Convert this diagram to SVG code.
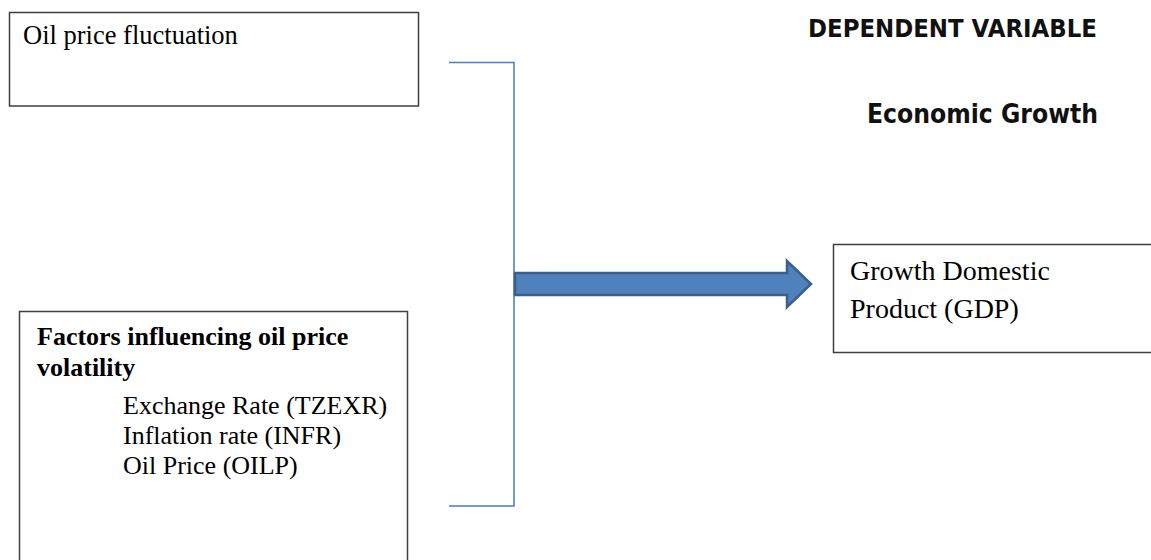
<svg xmlns="http://www.w3.org/2000/svg" width="1151" height="560" viewBox="0 0 1151 560">
<style>
.box{fill:#fff;stroke:#3f3f3f;stroke-width:1.5}
.serif{font-family:"Liberation Serif","Times New Roman",serif;fill:#000}
.sans{font-family:"DejaVu Sans",Tahoma,sans-serif;font-weight:bold;fill:#111}
.br{fill:none;stroke:#4a7ebf;stroke-width:1.5}
</style>
<rect width="1151" height="560" fill="#fff"/>
<g id="oil-price-fluctuation">
<rect class="box" x="9.5" y="12.5" width="409" height="93.5"/>
<text class="serif" x="23" y="44" font-size="26.5">Oil price fluctuation</text>
</g>
<g id="factors">
<rect class="box" x="19.5" y="311.5" width="388" height="260"/>
<text class="serif" x="37" y="345" font-size="26" font-weight="bold">Factors influencing oil price</text>
<text class="serif" x="37" y="376" font-size="26" font-weight="bold">volatility</text>
<text class="serif" x="123" y="414" font-size="26">Exchange Rate (TZEXR)</text>
<text class="serif" x="123" y="444" font-size="26">Inflation rate (INFR)</text>
<text class="serif" x="123" y="474" font-size="26">Oil Price (OILP)</text>
</g>
<g id="dependent-variable">
<text class="sans" x="808" y="37" font-size="24" textLength="289" lengthAdjust="spacingAndGlyphs">DEPENDENT VARIABLE</text>
<text class="sans" x="867" y="123" font-size="26" textLength="231" lengthAdjust="spacingAndGlyphs">Economic Growth</text>
</g>
<g id="gdp">
<rect class="box" x="833.5" y="244.5" width="330" height="108"/>
<text class="serif" x="850" y="280" font-size="28">Growth Domestic</text>
<text class="serif" x="850" y="318" font-size="28">Product (GDP)</text>
</g>
<g id="connectors">
<polyline class="br" points="449,62.5 514,62.5 514,506 449,506"/>
<polygon points="515,273 787,273 787,261 811,284 787,307 787,295 515,295" fill="#4f81bd" stroke="#3a5f8e" stroke-width="2.5" stroke-linejoin="miter"/>
</g>
</svg>
